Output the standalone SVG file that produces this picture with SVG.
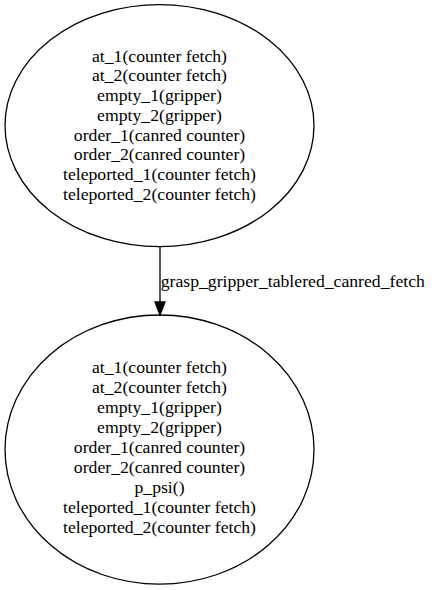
<svg xmlns="http://www.w3.org/2000/svg" width="435" height="590" viewBox="0 0 435 590">
<style>
.node ellipse{fill:none;stroke:#000;stroke-width:1.3}
text{font-family:'Liberation Serif','Tinos','Times New Roman','DejaVu Serif',serif;font-size:17.7px;fill:#000}
.node text{text-anchor:middle}
.edge line{stroke:#000;stroke-width:1.3}
.edge path{fill:#000;stroke:#000;stroke-width:1.3}
</style>
<rect width="435" height="590" fill="#fff"/>
<g id="connectors" class="edge">
<line x1="160" y1="246.5" x2="160" y2="302"/>
<path d="M155,302 L165,302 L160,315 Z"/>
<text x="160.7" y="286.7" font-family="Liberation Serif, serif">grasp_gripper_tablered_canred_fetch</text>
</g>
<g id="node1" class="node">
<ellipse cx="159.5" cy="125.6" rx="154.5" ry="121"/>
<text x="159.5" y="61.7">at_1(counter fetch)</text>
<text x="159.5" y="81.4">at_2(counter fetch)</text>
<text x="159.5" y="101.1">empty_1(gripper)</text>
<text x="159.5" y="120.8">empty_2(gripper)</text>
<text x="159.5" y="140.5">order_1(canred counter)</text>
<text x="159.5" y="160.2">order_2(canred counter)</text>
<text x="159.5" y="179.9">teleported_1(counter fetch)</text>
<text x="159.5" y="199.6">teleported_2(counter fetch)</text>
</g>
<g id="node2" class="node">
<ellipse cx="159.5" cy="449.6" rx="154.5" ry="134.6"/>
<text x="159.5" y="373.3">at_1(counter fetch)</text>
<text x="159.5" y="393.3">at_2(counter fetch)</text>
<text x="159.5" y="413.3">empty_1(gripper)</text>
<text x="159.5" y="433.3">empty_2(gripper)</text>
<text x="159.5" y="453.3">order_1(canred counter)</text>
<text x="159.5" y="473.3">order_2(canred counter)</text>
<text x="159.5" y="493.3">p_psi()</text>
<text x="159.5" y="513.3">teleported_1(counter fetch)</text>
<text x="159.5" y="533.3">teleported_2(counter fetch)</text>
</g>
</svg>
